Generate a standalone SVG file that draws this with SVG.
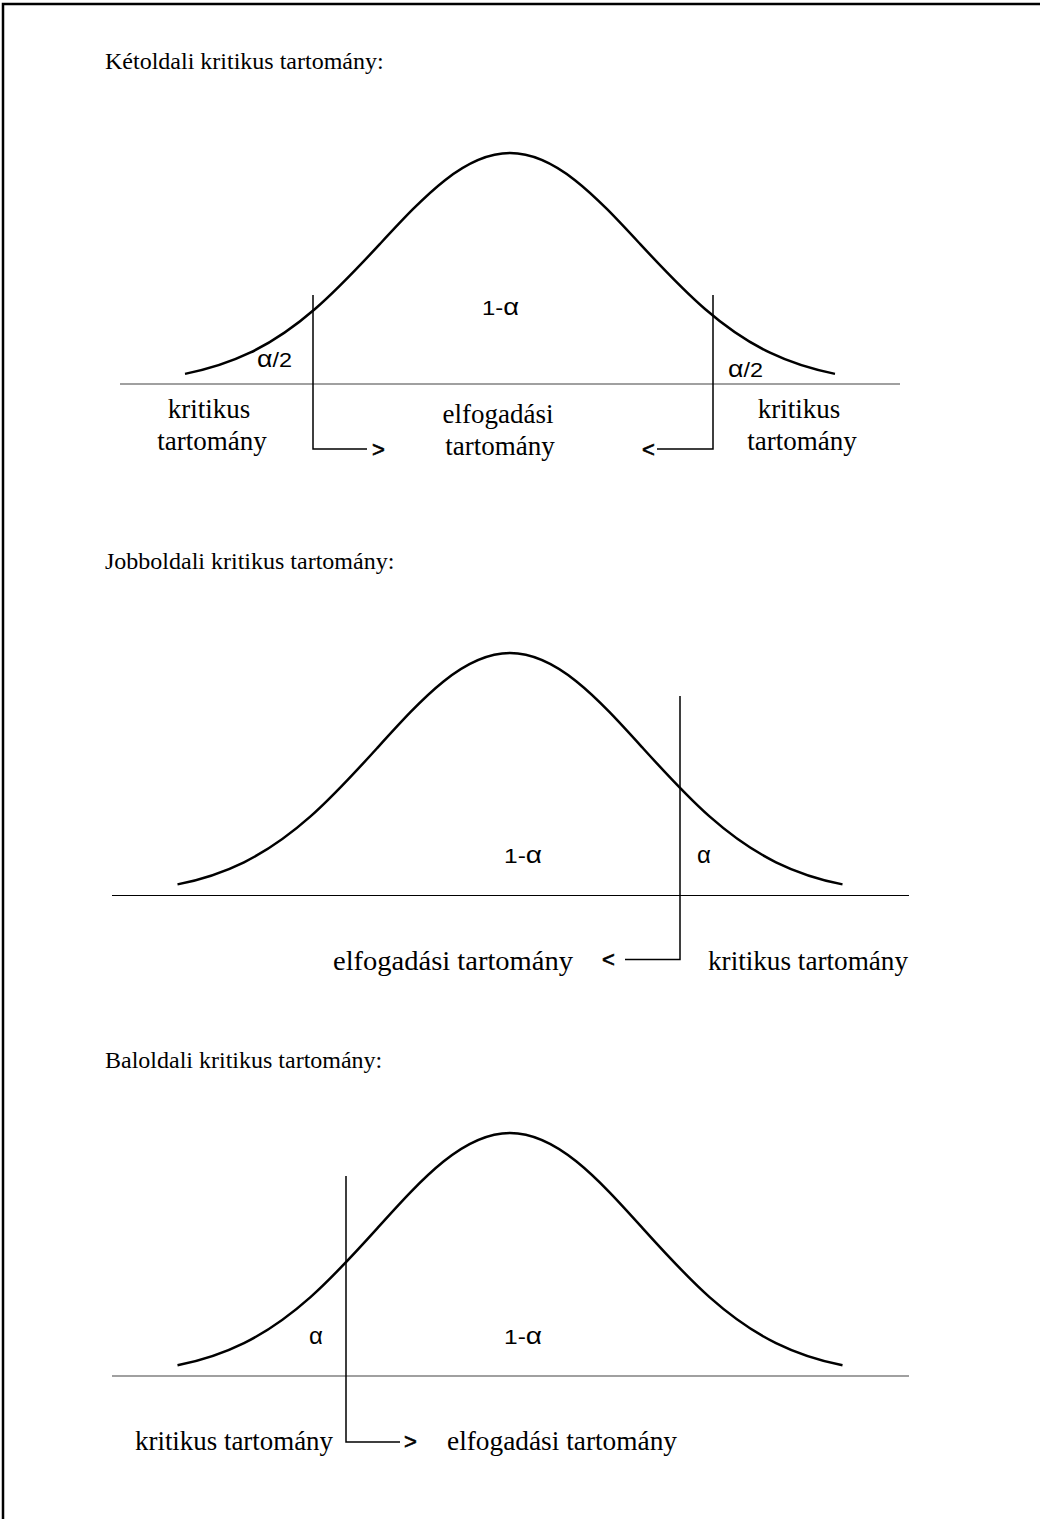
<svg xmlns="http://www.w3.org/2000/svg" width="1040" height="1519" viewBox="0 0 1040 1519">
<style>
.serif{font-family:"Liberation Serif","Times New Roman",serif;fill:#000}
.t{font-size:24px}
.l{font-size:27px}
.sans{font-family:"Liberation Sans",Arial,sans-serif;font-size:21px;fill:#000}
.a{font-size:24px}
.arr{font-family:"Liberation Sans",Arial,sans-serif;font-size:22px;fill:#000;stroke:#000;stroke-width:0.6}
.curve{fill:none;stroke:#000;stroke-width:2.5}
.axg{stroke:#808080;stroke-width:1.6;fill:none}
.axb{stroke:#000;stroke-width:1.2;fill:none}
.ln{stroke:#000;stroke-width:1.5;fill:none}
</style>
<rect width="1040" height="1519" fill="#fff"/>
<path d="M3,1519 V4 H1040" fill="none" stroke="#000" stroke-width="2.5"/>

<g id="ketoldali">
<text class="serif t" x="105" y="69">Kétoldali kritikus tartomány:</text>
<path class="curve" vector-effect="non-scaling-stroke" transform="translate(510,384) scale(130,231)" d="M-2.5,-0.0439 C-2.3333,-0.0622 -2.1667,-0.0902 -2,-0.1353 C-1.8333,-0.1804 -1.6667,-0.2435 -1.5,-0.3247 C-1.3333,-0.4059 -1.1667,-0.5054 -1,-0.6065 C-0.8333,-0.7076 -0.6667,-0.8090 -0.5,-0.8825 C-0.3333,-0.9560 -0.1667,-1 0,-1 C0.1667,-1 0.3333,-0.9560 0.5,-0.8825 C0.6667,-0.8090 0.8333,-0.7076 1,-0.6065 C1.1667,-0.5054 1.3333,-0.4059 1.5,-0.3247 C1.6667,-0.2435 1.8333,-0.1804 2,-0.1353 C2.1667,-0.0902 2.3333,-0.0622 2.5,-0.0439"/>
<line class="axg" x1="120" y1="384" x2="900" y2="384"/>
<text class="sans" x="482" y="315" textLength="37" lengthAdjust="spacingAndGlyphs">1-<tspan class="a">α</tspan></text>
<text class="sans" x="257" y="367" textLength="35" lengthAdjust="spacingAndGlyphs"><tspan class="a">α</tspan>/2</text>
<text class="sans" x="728" y="377" textLength="35" lengthAdjust="spacingAndGlyphs"><tspan class="a">α</tspan>/2</text>
<text class="serif l" x="209" y="418" text-anchor="middle">kritikus</text>
<text class="serif l" x="212" y="450" text-anchor="middle">tartomány</text>
<text class="serif l" x="498" y="423" text-anchor="middle">elfogadási</text>
<text class="serif l" x="500" y="455" text-anchor="middle">tartomány</text>
<text class="serif l" x="799" y="418" text-anchor="middle">kritikus</text>
<text class="serif l" x="802" y="450" text-anchor="middle">tartomány</text>
<text class="arr" x="372" y="457">&gt;</text>
<text class="arr" x="642" y="457">&lt;</text>
</g>

<g id="jobboldali">
<text class="serif t" x="105" y="569">Jobboldali kritikus tartomány:</text>
<path class="curve" vector-effect="non-scaling-stroke" transform="translate(510,895) scale(133,242)" d="M-2.5,-0.0439 C-2.3333,-0.0622 -2.1667,-0.0902 -2,-0.1353 C-1.8333,-0.1804 -1.6667,-0.2435 -1.5,-0.3247 C-1.3333,-0.4059 -1.1667,-0.5054 -1,-0.6065 C-0.8333,-0.7076 -0.6667,-0.8090 -0.5,-0.8825 C-0.3333,-0.9560 -0.1667,-1 0,-1 C0.1667,-1 0.3333,-0.9560 0.5,-0.8825 C0.6667,-0.8090 0.8333,-0.7076 1,-0.6065 C1.1667,-0.5054 1.3333,-0.4059 1.5,-0.3247 C1.6667,-0.2435 1.8333,-0.1804 2,-0.1353 C2.1667,-0.0902 2.3333,-0.0622 2.5,-0.0439"/>
<line class="axb" x1="112" y1="895.5" x2="909" y2="895.5"/>
<text class="sans" x="504" y="863" textLength="38" lengthAdjust="spacingAndGlyphs">1-<tspan class="a">α</tspan></text>
<text class="sans a" x="697" y="863">α</text>
<text class="serif l" x="333" y="970" textLength="240" lengthAdjust="spacingAndGlyphs">elfogadási tartomány</text>
<text class="serif l" x="708" y="970" textLength="200" lengthAdjust="spacingAndGlyphs">kritikus tartomány</text>
<text class="arr" x="602" y="967">&lt;</text>
</g>

<g id="baloldali">
<text class="serif t" x="105" y="1068">Baloldali kritikus tartomány:</text>
<path class="curve" vector-effect="non-scaling-stroke" transform="translate(510,1376) scale(133,243)" d="M-2.5,-0.0439 C-2.3333,-0.0622 -2.1667,-0.0902 -2,-0.1353 C-1.8333,-0.1804 -1.6667,-0.2435 -1.5,-0.3247 C-1.3333,-0.4059 -1.1667,-0.5054 -1,-0.6065 C-0.8333,-0.7076 -0.6667,-0.8090 -0.5,-0.8825 C-0.3333,-0.9560 -0.1667,-1 0,-1 C0.1667,-1 0.3333,-0.9560 0.5,-0.8825 C0.6667,-0.8090 0.8333,-0.7076 1,-0.6065 C1.1667,-0.5054 1.3333,-0.4059 1.5,-0.3247 C1.6667,-0.2435 1.8333,-0.1804 2,-0.1353 C2.1667,-0.0902 2.3333,-0.0622 2.5,-0.0439"/>
<line class="axg" x1="112" y1="1376" x2="909" y2="1376"/>
<text class="sans a" x="309" y="1344">α</text>
<text class="sans" x="504" y="1344" textLength="38" lengthAdjust="spacingAndGlyphs">1-<tspan class="a">α</tspan></text>
<text class="serif l" x="135" y="1450" textLength="198" lengthAdjust="spacingAndGlyphs">kritikus tartomány</text>
<text class="serif l" x="447" y="1450" textLength="230" lengthAdjust="spacingAndGlyphs">elfogadási tartomány</text>
<text class="arr" x="404" y="1449">&gt;</text>
</g>

<g id="connectors">
<path class="ln" d="M313,295 V449 H367"/>
<path class="ln" d="M713,295 V449 H657"/>
<path class="ln" d="M680,696 V959.5 H625"/>
<path class="ln" d="M346,1176 V1442 H400"/>
</g>
</svg>
